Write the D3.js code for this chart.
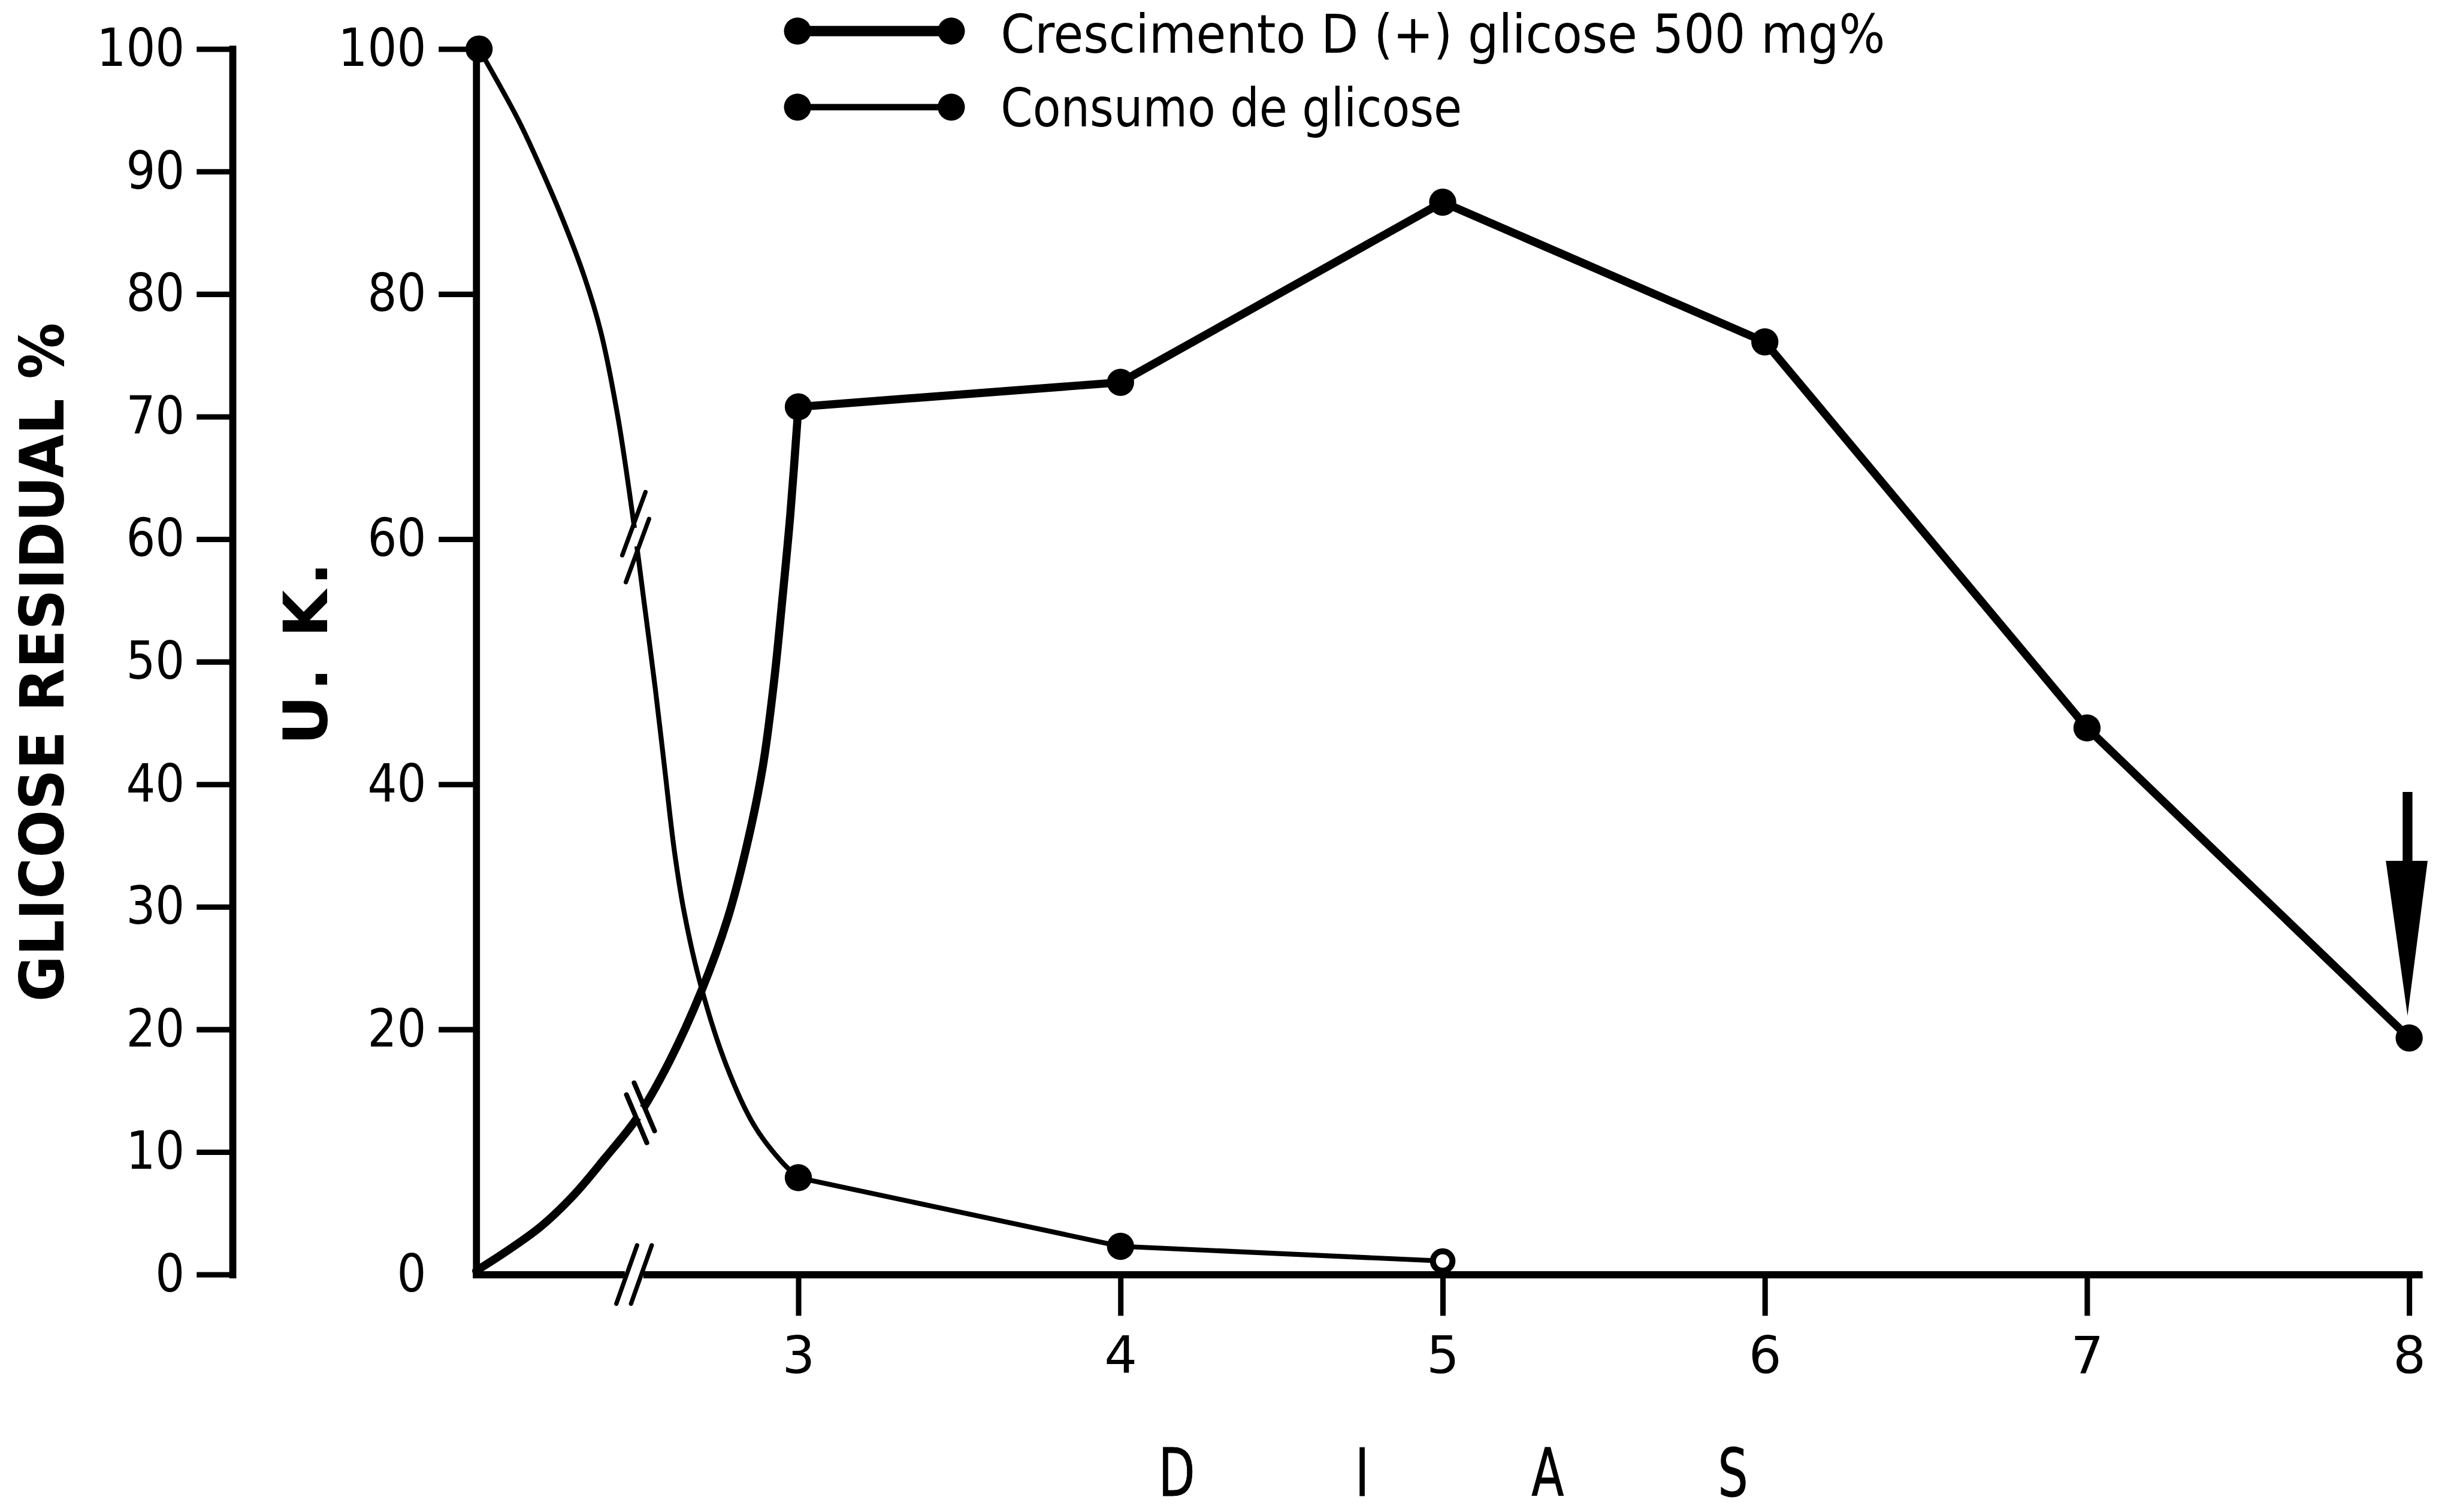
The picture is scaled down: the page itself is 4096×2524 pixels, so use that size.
<!DOCTYPE html>
<html>
<head>
<meta charset="utf-8">
<script src="https://cdn.jsdelivr.net/npm/d3@7"></script>
<style>
html,body{margin:0;padding:0;background:#fff;overflow:hidden;}
svg{display:block;}
</style>
</head>
<body>
<svg id="chart" width="4096" height="2524" viewBox="0 0 4517 2783"></svg>
<script>
// ---------- DATA ----------
const days = [3, 4, 5, 6, 7, 8];
const growthUK = [70.8, 72.8, 87.5, 76.1, 44.6, 19.3];           // Crescimento (U.K.)
const growthCurveDays = [2.0, 2.10, 2.20, 2.30, 2.40, 2.50, 2.60, 2.70, 2.78, 2.84, 2.89, 2.925, 2.95, 2.975];
const growthCurveUK   = [0.3, 2.0, 3.9, 6.4, 9.5, 12.8, 17.4, 23.2, 29.0, 35.0, 41.5, 48.5, 55.0, 62.0];

const consumoDays = [3, 4, 5];
const consumoPct  = [7.9, 2.3, 1.1];                              // Glicose residual %
const consumoOpen = [false, false, true];
const consumoCurveDays = [2.009, 2.129, 2.190, 2.267, 2.336, 2.387, 2.439, 2.487, 2.521, 2.556, 2.585, 2.615, 2.646, 2.698, 2.776, 2.862, 2.948];
const consumoCurvePct  = [100, 94.3, 90.9, 86.2, 81.4, 76.9, 70.1, 61.7, 54.9, 47.8, 41.3, 34.6, 29.5, 23.5, 17.1, 12.2, 9.2];

const xTicks = [3, 4, 5, 6, 7, 8];
const leftTicks = [0, 10, 20, 30, 40, 50, 60, 70, 80, 90, 100];
const ukTicks = [0, 20, 40, 60, 80, 100];
const legendLabels = ["Crescimento D (+) glicose 500 mg%", "Consumo de glicose"];
const leftTitle = "GLICOSE RESIDUAL %";
const rightTitle = "U. K.";
const xTitleLetters = ["D", "I", "A", "S"];
const breakDays = { axis: 2.49, consumo: 2.495, growth: 2.51 };

// ---------- LAYOUT ----------
const FONT = '"DejaVu Sans", sans-serif';
const svg = d3.select('#chart');
const x = d3.scaleLinear().domain([2, 8]).range([876.5, 4434.5]);
const y = d3.scaleLinear().domain([0, 100]).range([2346, 90]);
const AXW = 13, TKW = 10;
const GROWTH_W = 15, CONSUMO_W = 9, DOT_R = 25;

function styleAxis(g, fs, condense) {
  g.select('.domain').attr('stroke-width', AXW).attr('stroke', '#000').attr('stroke-linecap', 'square');
  g.selectAll('.tick line').attr('stroke-width', TKW).attr('stroke', '#000');
  const t = g.selectAll('.tick text').attr('font-size', fs).attr('font-family', FONT).attr('fill', '#000');
  if (condense) t.attr('textLength', function () { return this.textContent.length * condense; })
                 .attr('lengthAdjust', 'spacingAndGlyphs');
  g.attr('font-family', FONT);
}

// left axis (glicose residual)
const gL = svg.append('g').attr('transform', 'translate(428,0)')
  .call(d3.axisLeft(y).tickValues(leftTicks).tickSize(66).tickPadding(22).tickSizeOuter(0).tickFormat(d3.format('d')));
styleAxis(gL, 96, 54);

// U.K. axis
const gR = svg.append('g').attr('transform', `translate(${x(2)},0)`)
  .call(d3.axisLeft(y).tickValues(ukTicks).tickSize(69).tickPadding(23).tickSizeOuter(0).tickFormat(d3.format('d')));
styleAxis(gR, 96, 54);
gR.selectAll('.tick').filter(d => d === 0).select('line').remove();

// x axis
const xAxisScale = d3.scaleLinear().domain([2, 8.03]).range([x(2), x(8.03)]);
const gX = svg.append('g').attr('transform', `translate(0,${y(0)})`)
  .call(d3.axisBottom(xAxisScale).tickValues(xTicks).tickSize(76).tickPadding(38).tickSizeOuter(0).tickFormat(d3.format('d')));
styleAxis(gX, 95, 0);

// axis titles
svg.append('text')
  .attr('transform', 'translate(78,1219) rotate(-90)')
  .attr('text-anchor', 'middle').attr('dominant-baseline', 'central')
  .attr('font-family', FONT).attr('font-weight', 'bold').attr('font-size', 112)
  .attr('textLength', 1250).attr('lengthAdjust', 'spacingAndGlyphs')
  .text(leftTitle);
svg.append('text')
  .attr('transform', 'translate(563,1203) rotate(-90)')
  .attr('text-anchor', 'middle').attr('dominant-baseline', 'central')
  .attr('font-family', FONT).attr('font-weight', 'bold').attr('font-size', 112)
  .attr('textLength', 336).attr('lengthAdjust', 'spacing')
  .text(rightTitle);
const xl = d3.scalePoint().domain(xTitleLetters).range([2166, 3190]);
svg.append('g').selectAll('text').data(xTitleLetters).join('text')
  .attr('transform', d => `translate(${xl(d)},2753) scale(0.72,1)`)
  .attr('text-anchor', 'middle').attr('font-family', FONT).attr('font-size', 121)
  .attr('stroke', '#000').attr('stroke-width', 1.2)
  .text(d => d);

// ---------- LINES ----------
const smooth = d3.line().x(d => x(d[0])).y(d => y(d[1])).curve(d3.curveCatmullRom.alpha(0.5));
const straight = d3.line().x(d => x(d[0])).y(d => y(d[1]));

const growthCurve = growthCurveDays.map((d, i) => [d, growthCurveUK[i]]).concat([[days[0], growthUK[0]]]);
const growthPts = days.map((d, i) => [d, growthUK[i]]);
const consumoCurve = consumoCurveDays.map((d, i) => [d, consumoCurvePct[i]]).concat([[consumoDays[0], consumoPct[0]]]);
const consumoPts = consumoDays.map((d, i) => [d, consumoPct[i]]);

const lineStyle = (sel, w) => sel.attr('fill', 'none').attr('stroke', '#000').attr('stroke-width', w)
  .attr('stroke-linejoin', 'round').attr('stroke-linecap', 'round');

const consumoCurvePath = svg.append('path').attr('d', smooth(consumoCurve)).call(lineStyle, CONSUMO_W);
svg.append('path').attr('d', straight(consumoPts)).call(lineStyle, CONSUMO_W);
const growthCurvePath = svg.append('path').attr('d', smooth(growthCurve)).call(lineStyle, GROWTH_W);
svg.append('path').attr('d', straight(growthPts)).call(lineStyle, GROWTH_W);

// ---------- BREAK MARKS ----------
function pointAtX(node, xt) {
  let lo = 0, hi = node.getTotalLength();
  for (let i = 0; i < 40; i++) {
    const mid = (lo + hi) / 2;
    if (node.getPointAtLength(mid).x < xt) lo = mid; else hi = mid;
  }
  const L = (lo + hi) / 2;
  const p = node.getPointAtLength(L);
  const a = node.getPointAtLength(Math.max(0, L - 6)), b = node.getPointAtLength(L + 6);
  const n = Math.hypot(b.x - a.x, b.y - a.y);
  return { x: p.x, y: p.y, tx: (b.x - a.x) / n, ty: (b.y - a.y) / n };
}
function drawBreak(c, mdx, mdy, sep, half, gapLen, gapW, markW) {
  const n = Math.hypot(mdx, mdy); mdx /= n; mdy /= n;
  svg.append('line')
    .attr('x1', c.x - c.tx * gapLen / 2).attr('y1', c.y - c.ty * gapLen / 2)
    .attr('x2', c.x + c.tx * gapLen / 2).attr('y2', c.y + c.ty * gapLen / 2)
    .attr('stroke', '#fff').attr('stroke-width', gapW);
  [-1, 1].forEach(s => {
    const px = c.x + s * c.tx * sep / 2, py = c.y + s * c.ty * sep / 2;
    svg.append('line')
      .attr('x1', px - mdx * half).attr('y1', py - mdy * half)
      .attr('x2', px + mdx * half).attr('y2', py + mdy * half)
      .attr('stroke', '#000').attr('stroke-width', markW).attr('stroke-linecap', 'round');
  });
}
drawBreak({ x: x(breakDays.axis), y: y(0), tx: 1, ty: 0 }, 0.335, -0.942, 27, 57, 34, 24, 8);
drawBreak(pointAtX(consumoCurvePath.node(), x(breakDays.consumo)), 0.345, -0.939, 50, 62, 34, 22, 8);
drawBreak(pointAtX(growthCurvePath.node(), x(breakDays.growth)), 0.39, 0.92, 26, 48, 20, 34, 9);

// ---------- DOTS ----------
svg.append('g').selectAll('circle').data(growthPts).join('circle')
  .attr('cx', d => x(d[0])).attr('cy', d => y(d[1])).attr('r', DOT_R).attr('fill', '#000');
svg.append('circle')
  .attr('cx', x(consumoCurveDays[0])).attr('cy', y(consumoCurvePct[0])).attr('r', DOT_R).attr('fill', '#000');
svg.append('g').selectAll('circle').data(consumoPts).join('circle')
  .attr('cx', d => x(d[0])).attr('cy', d => y(d[1]))
  .attr('r', (d, i) => consumoOpen[i] ? 18 : DOT_R)
  .attr('fill', (d, i) => consumoOpen[i] ? '#fff' : '#000')
  .attr('stroke', '#000').attr('stroke-width', (d, i) => consumoOpen[i] ? 11 : 0);

// ---------- ARROW at last growth point ----------
const ax = x(days[5]) - 3, ay = y(growthUK[5]);
svg.append('line').attr('x1', ax).attr('x2', ax).attr('y1', ay - 453).attr('y2', ay - 320)
  .attr('stroke', '#000').attr('stroke-width', 18);
svg.append('path')
  .attr('d', `M${ax - 40},${ay - 326}L${ax + 37},${ay - 326}L${ax},${ay - 41}Z`)
  .attr('fill', '#000');

// ---------- LEGEND ----------
const legendRows = [
  { label: legendLabels[0], w: GROWTH_W + 4, cy: 57, base: 97, len: 1628 },
  { label: legendLabels[1], w: CONSUMO_W + 3, cy: 197, base: 233, len: 849 }
];
const lg = svg.append('g');
legendRows.forEach(r => {
  lg.append('line').attr('x1', 1468).attr('x2', 1751).attr('y1', r.cy).attr('y2', r.cy)
    .attr('stroke', '#000').attr('stroke-width', r.w);
  [1468, 1751].forEach(cx => lg.append('circle').attr('cx', cx).attr('cy', r.cy).attr('r', DOT_R).attr('fill', '#000'));
  lg.append('text').attr('x', 1842).attr('y', r.base)
    .attr('font-family', FONT).attr('font-size', 99)
    .attr('textLength', r.len).attr('lengthAdjust', 'spacingAndGlyphs')
    .text(r.label);
});
</script>
</body>
</html>
